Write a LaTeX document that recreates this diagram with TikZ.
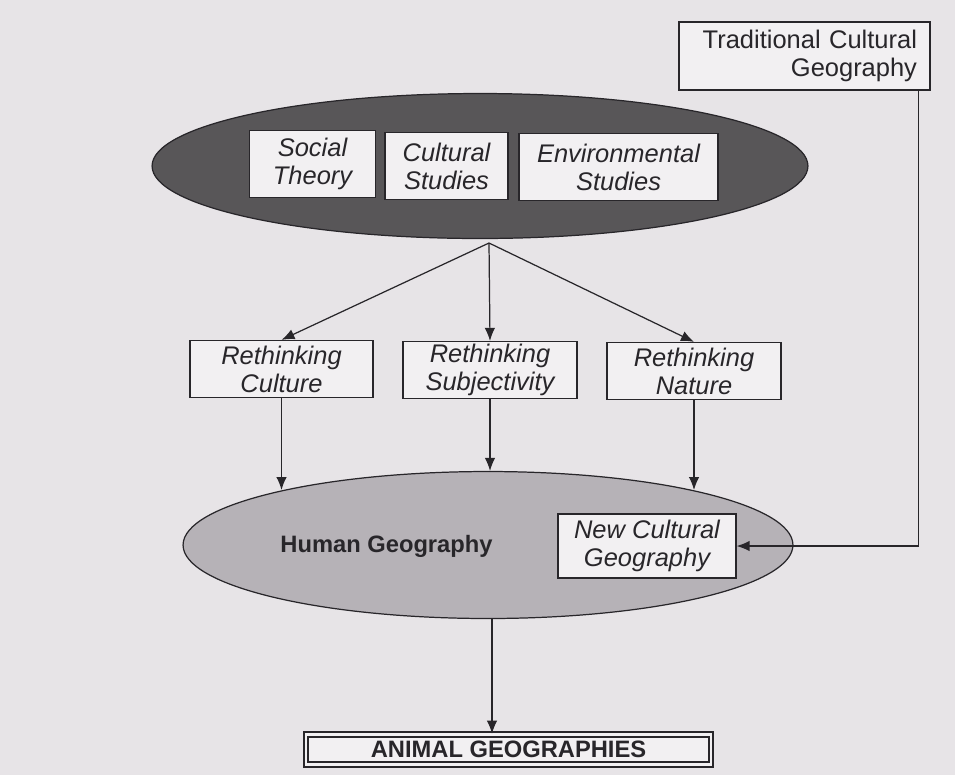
\documentclass[tikz,border=0pt]{standalone}
\usepackage{fontspec}
\setsansfont{Liberation Sans}
\usepackage{tikz}
\usetikzlibrary{arrows.meta,shapes.geometric}

\definecolor{page}{RGB}{231,228,231}
\definecolor{boxwhite}{RGB}{242,240,242}
\definecolor{darkfill}{RGB}{88,86,88}
\definecolor{hgfill}{RGB}{182,178,183}
\definecolor{ink}{RGB}{40,38,42}

\begin{document}
\begin{tikzpicture}[x=0.02cm, y=-0.02cm, -{Latex[length=2.6mm,width=2.1mm]}, line width=0.7pt, color=ink,
      every node/.append style={font=\fontsize{14.5}{16}\selectfont\sffamily}]
    \tikzstyle{box} = [draw, fill=boxwhite, align=center, inner sep=0pt, font=\fontsize{14.5}{16}\selectfont\sffamily\itshape]
    \tikzstyle{blob} = [draw, ellipse, inner sep=0pt]
    \tikzstyle{heading} = [font=\fontsize{13.5}{16}\selectfont\sffamily\bfseries]
    \fill[page] (0,0) rectangle (955,775);
    % the three fields
    \node (fields) [blob, fill=darkfill, minimum width=13.12cm, minimum height=2.9cm] at (480,166) {};
    \node (social) [box, minimum width=2.52cm, minimum height=1.34cm] at (312.5,164) {Social\\Theory};
    \node (cultstud) [box, minimum width=2.46cm, minimum height=1.34cm] at (446.5,166) {Cultural\\Studies};
    \node (envstud) [box, minimum width=3.98cm, minimum height=1.34cm] at (618.5,167) {Environmental\\Studies};
    \node (trad) [draw, fill=boxwhite, inner sep=0pt, inner xsep=0.26cm, text width=4.5cm, align=right, minimum height=1.36cm] at (804.5,56) {Traditional Cultural\\Geography};
    % rethinking
    \coordinate (split) at (489,243);
    \node (culture) [box, minimum width=3.66cm, minimum height=1.14cm] at (281.5,369) {Rethinking\\Culture};
    \node (subject) [box, minimum width=3.48cm, minimum height=1.14cm] at (490,370) {Rethinking\\Subjectivity};
    \node (nature) [box, minimum width=3.48cm, minimum height=1.14cm] at (694,371) {Rethinking\\Nature};
    % human geography
    \node (human) [blob, fill=hgfill, minimum width=12.2cm, minimum height=2.94cm] at (488,545) {};
    \node (hgtext) [heading] at (386.5,546) {Human Geography};
    \node (newcult) [box, minimum width=3.56cm, minimum height=1.28cm] at (647,546) {New Cultural\\Geography};
    \node (animal) [heading, draw, line width=1pt, double=boxwhite, double distance=1.6pt, fill=boxwhite, minimum width=8.1cm, minimum height=0.6cm, inner sep=0pt] at (508.5,749.5) {ANIMAL GEOGRAPHIES};
    % arrows
    \draw (split) -- (culture.north);
    \draw (split) -- (subject.north);
    \draw (split) -- (nature.north);
    \draw (culture.south) -- (culture.south |- 0,490);
    \draw (subject.south) -- (subject.south |- human.north);
    \draw (nature.south) -- (nature.south |- 0,490);
    \draw ([xshift=-0.24cm]trad.south east) |- (newcult.east);
    \draw ([xshift=0.08cm]human.south) -- ([xshift=0.08cm]human.south |- animal.north);
\end{tikzpicture}
\end{document}
